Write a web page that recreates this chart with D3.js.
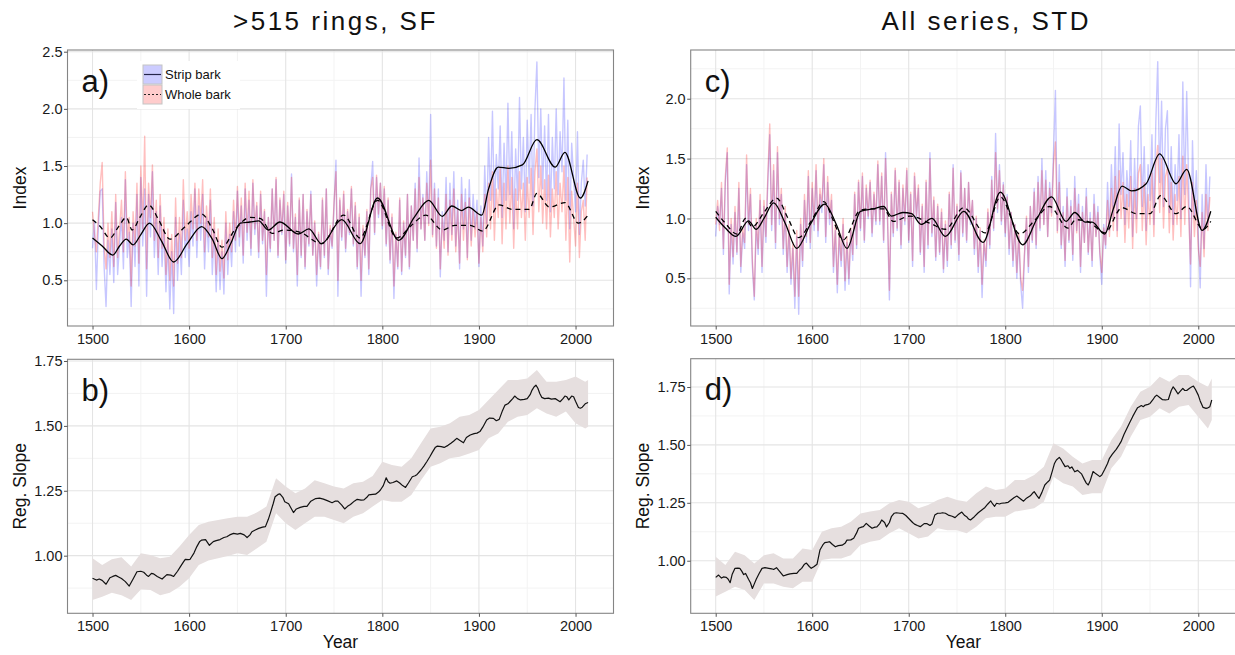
<!DOCTYPE html>
<html>
<head>
<meta charset="utf-8">
<script src="https://cdn.jsdelivr.net/npm/d3@7"></script>
<style>
  body { margin: 0; background: #fff; }
  svg { display: block; font-family: "Liberation Sans", Arial, Helvetica, sans-serif; }
</style>
</head>
<body>
<svg id="chart" width="1235" height="655"></svg>
<script>
// ---------- axis ticks ----------
const xTicks = [1500, 1600, 1700, 1800, 1900, 2000];
const xMinor = [1550, 1650, 1750, 1850, 1950];
const yTicksA = [0.5, 1.0, 1.5, 2.0, 2.5];
const yMinorA = [0.25, 0.75, 1.25, 1.75, 2.25];
const yTicksC = [0.5, 1.0, 1.5, 2.0];
const yMinorC = [0.25, 0.75, 1.25, 1.75, 2.25];
const yTicksSlope = [1.00, 1.25, 1.50, 1.75];
const yMinorSlope = [0.875, 1.125, 1.375, 1.625];

// ---------- annual index series, one value every second year 1500-2012 ----------
const indexYears = d3.range(1500, 2013, 2);

// >515 rings, SF : strip bark
const stripA = [
  0.78,1.02,0.42,0.95,1.28, 1.30,0.62,0.27,0.85,0.55, 0.95,0.48,1.18,0.55,0.82, 1.05,0.60,1.38,0.70,0.92,
  0.27,1.00,0.62,1.25,0.45, 1.40,0.80,1.30,0.36,1.25, 0.88,1.45,0.70,1.10,0.55, 1.15,0.62,0.95,0.40,0.85,
  0.25,0.75,0.21,1.05,0.50, 0.90,0.55,1.20,0.70,0.95, 0.62,1.10,0.80,1.30,0.70, 1.15,0.85,1.25,0.60,1.05,
  0.75,1.20,0.55,0.95,0.40, 0.85,0.42,0.75,0.38,1.00, 0.55,0.90,0.62,1.10,0.75, 1.28,0.80,1.15,0.65,1.30,
  0.85,1.20,0.72,1.35,0.90, 1.15,0.70,1.25,0.82,1.10, 0.36,1.05,0.75,1.30,0.85, 1.38,0.70,1.20,0.90,1.25,
  0.65,1.15,0.80,1.43,0.75, 1.05,0.45,1.20,0.70,1.25, 0.60,1.10,0.80,1.28,0.72, 1.00,0.45,0.90,0.60,1.20,
  0.70,1.30,0.55,0.95,0.78, 1.15,1.55,0.36,1.20,0.85, 1.25,0.75,1.10,0.90,1.30, 0.80,1.15,0.60,1.05,0.36,
  0.95,0.70,1.10,0.55,1.30, 1.54,0.90,1.40,1.05,1.35, 0.95,1.30,0.80,1.20,0.65, 1.05,0.34,0.90,0.60,1.20,
  0.55,1.00,0.70,1.25,0.60, 1.15,0.85,1.35,0.75,1.57, 0.95,1.25,0.85,1.45,1.00, 1.95,0.90,1.35,0.80,1.30,
  0.53,1.10,0.85,1.40,0.75, 1.35,0.90,1.45,0.80,1.20, 0.60,1.40,0.95,1.30,0.70, 1.38,0.85,1.25,0.95,1.20,
  0.62,1.15,0.80,1.50,1.00, 1.75,1.20,1.98,1.10,1.60, 1.30,1.85,1.05,1.70,1.20, 2.05,1.25,1.80,0.95,1.65,
  1.20,2.10,1.30,1.75,1.10, 1.90,1.35,1.95,1.15,2.00, 2.41,1.40,2.00,1.30,1.85, 1.20,1.95,1.10,1.75,1.30,
  2.00,1.25,1.80,1.45,2.27, 1.20,1.90,0.95,1.70,1.40, 1.10,1.80,0.90,1.35,1.55, 1.15,1.60
];
// >515 rings, SF : whole bark
const wholeA = [
  1.10,0.90,0.75,1.05,1.35, 1.53,0.80,0.60,1.00,0.70, 1.10,0.62,1.25,0.70,0.95, 1.20,0.75,1.45,0.85,1.05,
  0.45,1.10,0.80,1.35,0.65, 1.50,0.95,1.76,0.60,1.35, 1.05,1.51,0.85,1.20,0.70, 1.25,0.78,1.05,0.55,0.95,
  0.50,0.90,0.45,1.22,0.65, 1.05,0.70,1.38,0.85,1.10, 0.78,1.25,0.95,1.35,0.85, 1.30,1.00,1.38,0.75,1.15,
  0.88,1.30,0.70,1.05,0.55, 0.95,0.58,0.85,0.52,1.10, 0.68,1.00,0.75,1.20,0.85, 1.32,0.88,1.22,0.72,1.35,
  0.92,1.28,0.78,1.38,0.95, 1.18,0.75,1.28,0.85,1.12, 0.55,1.05,0.78,1.30,0.85, 1.40,0.72,1.22,0.92,1.28,
  0.68,1.18,0.82,1.40,0.78, 1.08,0.55,1.22,0.72,1.25, 0.62,1.12,0.82,1.25,0.72, 1.02,0.55,0.92,0.62,1.22,
  0.72,1.30,0.60,0.98,0.80, 1.18,1.45,0.50,1.22,0.88, 1.28,0.78,1.12,0.92,1.32, 0.82,1.18,0.62,1.08,0.50,
  0.98,0.72,1.12,0.60,1.30, 1.40,0.92,1.42,1.08,1.35, 0.98,1.32,0.82,1.22,0.68, 1.08,0.45,0.92,0.62,1.22,
  0.58,1.02,0.72,1.25,0.62, 1.15,0.85,1.30,0.78,1.40, 0.95,1.22,0.85,1.35,0.98, 1.55,0.88,1.30,0.78,1.22,
  0.60,1.05,0.78,1.25,0.72, 1.20,0.85,1.30,0.75,1.12, 0.65,1.25,0.85,1.18,0.68, 1.22,0.80,1.12,0.88,1.10,
  0.65,1.05,0.75,1.25,0.88, 1.35,0.95,1.45,0.85,1.30, 1.05,1.48,0.82,1.35,0.95, 1.50,1.00,1.40,0.78,1.30,
  0.95,1.45,1.05,1.35,0.85, 1.40,1.05,1.48,0.90,1.45, 1.65,1.10,1.50,1.00,1.38, 0.95,1.42,0.88,1.30,1.05,
  1.45,0.95,1.35,1.10,1.50, 0.85,1.40,0.66,1.28,1.05, 0.80,1.35,0.70,1.10,1.20, 0.85,1.40
];
// All series, STD : strip bark
const stripC = [
  0.85,1.10,0.95,1.25,0.70, 1.30,1.55,0.37,0.95,0.62, 1.05,0.70,1.25,0.55,0.88, 0.75,1.45,0.90,1.20,0.60,
  0.32,0.95,0.70,1.15,0.55, 1.10,0.80,1.30,1.70,0.90, 1.40,0.75,1.55,0.95,1.20, 0.70,1.05,0.55,0.90,0.45,
  0.75,0.25,0.85,0.20,0.95, 0.60,1.15,0.80,1.35,0.75, 1.25,0.90,1.40,0.85,1.20, 1.05,1.45,0.80,1.30,0.95,
  1.15,0.55,0.90,0.38,0.85, 0.60,0.95,0.40,0.80,0.45, 0.90,0.65,1.20,0.75,1.30, 0.90,1.35,0.80,1.25,1.00,
  1.30,0.85,1.20,0.95,1.45, 0.95,1.35,0.80,1.55,1.00, 0.32,1.20,0.85,1.40,0.90, 1.30,0.75,1.25,0.95,1.40,
  0.80,1.20,0.60,1.35,1.00, 1.25,0.70,1.10,0.55,1.30, 0.75,1.55,0.85,1.15,0.65, 1.10,0.70,1.05,0.55,0.95,
  0.60,1.20,0.75,1.45,0.80, 1.10,0.65,1.40,0.85,1.25, 0.80,1.30,0.95,1.15,0.70, 1.00,0.55,0.90,0.34,0.80,
  0.60,1.05,0.75,1.35,0.90, 1.71,1.05,1.45,0.95,1.30, 0.85,1.20,0.70,1.05,0.60, 0.95,0.50,0.85,0.45,0.25,
  0.70,1.00,0.55,1.10,0.80, 1.25,0.75,1.35,0.90,1.50, 0.95,1.40,0.85,1.30,1.05, 1.55,2.07,0.90,1.45,0.75,
  1.10,0.60,1.25,0.80,1.15, 0.65,1.35,0.90,1.20,0.55, 1.10,0.80,1.25,0.70,1.05, 0.60,1.20,0.85,1.10,0.70,
  0.45,0.95,0.75,1.30,0.90, 1.45,1.00,1.60,0.90,1.79, 1.20,1.55,0.95,1.40,1.10, 1.65,0.85,1.50,1.00,1.77,
  1.94,1.10,1.60,0.90,1.45, 1.15,1.70,0.95,1.80,2.31, 1.30,1.98,1.10,1.75,1.90, 1.05,1.60,0.95,1.45,1.15,
  1.70,1.00,2.14,1.20,2.06, 1.30,0.43,1.65,1.00,1.40, 0.85,0.42,1.20,0.75,1.45, 0.95,1.35
];
// All series, STD : whole bark
const wholeC = [
  0.95,1.15,0.90,1.30,0.75, 1.35,1.59,0.45,1.00,0.68, 1.10,0.72,1.30,0.60,0.92, 0.80,1.53,0.95,1.25,0.65,
  0.35,1.00,0.75,1.20,0.60, 1.15,0.85,1.35,1.79,0.95, 1.45,0.80,1.60,1.00,1.25, 0.75,1.10,0.60,0.95,0.50,
  0.80,0.35,0.90,0.35,1.00, 0.65,1.20,0.85,1.40,0.80, 1.30,0.95,1.45,0.90,1.25, 1.10,1.50,0.85,1.35,1.00,
  1.20,0.60,0.95,0.45,0.90, 0.65,1.00,0.48,0.85,0.50, 0.92,0.70,1.22,0.78,1.32, 0.92,1.38,0.82,1.28,1.02,
  1.32,0.88,1.22,0.98,1.48, 0.98,1.38,0.82,1.50,1.02, 0.40,1.22,0.88,1.42,0.92, 1.32,0.78,1.28,0.98,1.42,
  0.82,1.22,0.65,1.38,1.02, 1.28,0.72,1.12,0.60,1.32, 0.78,1.50,0.88,1.18,0.68, 1.12,0.72,1.08,0.58,0.98,
  0.65,1.22,0.78,1.42,0.82, 1.12,0.70,1.38,0.88,1.25, 0.82,1.30,0.98,1.15,0.75, 1.02,0.60,0.92,0.45,0.82,
  0.65,1.08,0.78,1.32,0.92, 1.55,1.08,1.40,0.98,1.28, 0.88,1.18,0.75,1.05,0.65, 0.95,0.55,0.88,0.50,0.40,
  0.72,1.02,0.60,1.10,0.82, 1.22,0.78,1.30,0.92,1.40, 0.95,1.32,0.85,1.25,1.02, 1.45,1.64,0.88,1.30,0.78,
  1.05,0.65,1.18,0.82,1.10, 0.70,1.25,0.88,1.12,0.60, 1.05,0.80,1.18,0.72,1.00, 0.65,1.12,0.85,1.05,0.72,
  0.55,0.92,0.78,1.15,0.85, 1.25,0.90,1.35,0.85,1.40, 1.00,1.30,0.80,1.20,0.92, 1.35,0.75,1.25,0.88,1.38,
  1.45,0.90,1.30,0.78,1.20, 0.95,1.38,0.85,1.45,1.61, 1.05,1.50,0.92,1.35,1.42, 0.88,1.30,0.82,1.20,0.95,
  1.35,0.85,1.52,0.95,1.45, 1.05,0.62,1.30,0.85,1.15, 0.75,0.60,1.05,0.68,1.20, 0.90,1.18
];

// ---------- smoothed chronologies (control years and values) ----------
const stripSmoothYearsA = [1500,1510,1521,1528,1535,1542,1550,1559,1571,1584,1598,1613,1624,1634,1643,1653,1663,1672,1682,1694,1713,1724,1737,1758,1777,1795,1817,1833,1848,1862,1872,1882,1889,1903,1910,1920,1931,1945,1960,1979,1989,2005,2013];
const stripSmoothA      = [0.87,0.80,0.72,0.80,0.86,0.81,0.90,1.00,0.85,0.66,0.82,0.97,0.86,0.69,0.82,1.00,1.01,1.02,0.94,1.01,0.905,0.95,0.82,1.03,0.82,1.22,0.85,1.05,1.20,1.06,1.15,1.11,1.14,1.07,1.30,1.49,1.48,1.51,1.73,1.49,1.62,1.22,1.37];
const wholeSmoothYearsA = [1500,1508,1518,1527,1535,1541,1549,1558,1569,1580,1596,1613,1624,1634,1648,1663,1674,1686,1699,1715,1737,1760,1777,1795,1815,1830,1845,1862,1875,1891,1904,1921,1935,1952,1960,1973,1989,2003,2013];
const wholeSmoothA      = [1.03,0.97,0.87,0.97,1.05,0.94,1.05,1.16,1.02,0.86,0.97,1.08,0.95,0.79,0.95,1.05,1.04,0.91,0.94,0.92,0.82,1.07,0.87,1.20,0.87,0.98,1.07,0.94,0.98,0.98,0.93,1.16,1.12,1.12,1.26,1.14,1.18,1.00,1.07];

const stripSmoothYearsC = [1500,1510,1521,1534,1542,1550,1560,1572,1584,1598,1613,1625,1636,1650,1663,1674,1682,1694,1703,1713,1724,1738,1757,1777,1795,1818,1833,1848,1863,1872,1883,1890,1903,1912,1921,1931,1946,1960,1977,1988,2004,2013];
const stripSmoothC      = [1.01,0.92,0.85,0.98,0.91,1.00,1.13,0.96,0.75,0.95,1.12,0.95,0.75,1.06,1.08,1.10,1.02,1.05,1.04,0.95,1.00,0.85,1.06,0.80,1.22,0.78,1.00,1.18,0.975,1.05,0.97,0.97,0.87,1.08,1.27,1.23,1.29,1.54,1.29,1.41,0.90,1.06];
const wholeSmoothYearsC = [1500,1510,1522,1531,1538,1550,1563,1575,1586,1599,1612,1622,1632,1650,1663,1674,1684,1701,1722,1738,1757,1779,1795,1815,1830,1846,1865,1873,1887,1903,1921,1936,1950,1961,1977,1988,2005,2013];
const wholeSmoothC      = [1.06,0.96,0.87,1.00,0.93,1.05,1.17,1.00,0.84,0.98,1.14,0.98,0.82,1.07,1.08,1.08,0.975,1.02,0.96,0.91,1.09,0.88,1.18,0.87,0.98,1.10,0.92,0.99,0.97,0.88,1.09,1.04,1.04,1.19,1.04,1.10,0.91,0.975];

// ---------- regression slope, >515 rings, SF ----------
const slopeYearsB = [1500,1504,1507,1510,1514,1518,1521,1524,1527,1530,1534,1538,1542,1546,1550,1553,1556,1558,1561,1563,1567,1572,1577,1581,1584,1588,1591,1594,1596,1599,1601,1605,1608,1611,1613,1617,1621,1625,1628,1632,1636,1639,1642,1646,1650,1653,1657,1660,1663,1665,1669,1672,1676,1679,1682,1684,1687,1689,1692,1694,1697,1699,1703,1706,1708,1711,1715,1719,1722,1726,1731,1735,1739,1743,1748,1751,1754,1758,1761,1764,1767,1771,1774,1778,1781,1784,1786,1790,1793,1796,1798,1801,1804,1806,1808,1811,1815,1818,1821,1824,1827,1831,1834,1836,1840,1843,1846,1849,1852,1855,1857,1861,1864,1868,1871,1874,1877,1880,1884,1887,1891,1895,1898,1901,1904,1908,1911,1915,1918,1921,1924,1927,1930,1932,1935,1937,1940,1943,1947,1950,1953,1955,1957,1959,1961,1963,1965,1968,1972,1975,1979,1982,1984,1987,1989,1991,1993,1996,1998,2000,2003,2005,2007,2010,2013];
const slopeB      = [0.913,0.906,0.910,0.905,0.890,0.915,0.920,0.924,0.918,0.912,0.900,0.883,0.910,0.938,0.940,0.936,0.925,0.920,0.932,0.930,0.920,0.910,0.927,0.925,0.920,0.940,0.958,0.975,0.986,0.985,0.986,1.010,1.035,1.055,1.060,1.062,1.040,1.054,1.058,1.062,1.070,1.073,1.080,1.086,1.083,1.086,1.080,1.070,1.080,1.092,1.100,1.105,1.110,1.112,1.140,1.163,1.200,1.227,1.236,1.238,1.225,1.208,1.200,1.180,1.166,1.180,1.186,1.190,1.190,1.210,1.220,1.222,1.218,1.212,1.204,1.210,1.210,1.195,1.180,1.190,1.197,1.210,1.217,1.214,1.215,1.225,1.234,1.236,1.237,1.245,1.253,1.270,1.300,1.285,1.279,1.282,1.288,1.280,1.270,1.263,1.280,1.304,1.308,1.313,1.330,1.345,1.362,1.380,1.400,1.418,1.422,1.420,1.417,1.425,1.433,1.442,1.452,1.445,1.435,1.455,1.465,1.470,1.472,1.478,1.495,1.523,1.530,1.529,1.520,1.525,1.555,1.580,1.585,1.593,1.605,1.615,1.605,1.600,1.602,1.605,1.620,1.638,1.650,1.657,1.645,1.625,1.610,1.605,1.607,1.603,1.605,1.598,1.593,1.605,1.615,1.612,1.600,1.615,1.612,1.595,1.571,1.568,1.572,1.585,1.590];
const bandYearsB = [...d3.range(1500, 2011, 10), 2013];
const bandLowB  = [0.829,0.842,0.857,0.848,0.829,0.870,0.868,0.848,0.857,0.880, 0.913,0.964,0.981,0.990,0.999,1.009,1.003,1.028,1.054,1.163, 1.125,1.099,1.125,1.150,1.150,1.137,1.125,1.150,1.163,1.189, 1.214,1.208,1.208,1.234,1.291,1.343,1.356,1.375,1.381,1.394, 1.407,1.452,1.471,1.516,1.535,1.542,1.568,1.548,1.535,1.555, 1.510,1.490,1.497];
const bandHighB = [0.990,0.964,0.986,0.994,0.958,1.009,1.003,0.990,0.996,1.035, 1.080,1.118,1.131,1.137,1.144,1.150,1.150,1.166,1.189,1.298, 1.266,1.240,1.259,1.291,1.279,1.266,1.259,1.279,1.285,1.307, 1.362,1.349,1.343,1.375,1.433,1.490,1.497,1.510,1.535,1.542, 1.561,1.600,1.638,1.677,1.677,1.683,1.715,1.670,1.670,1.677, 1.690,1.670,1.677];

// ---------- regression slope, all series, STD ----------
const slopeYearsD = [1500,1503,1506,1508,1511,1513,1515,1517,1520,1523,1525,1527,1529,1531,1534,1536,1538,1540,1542,1545,1548,1551,1555,1558,1560,1563,1566,1570,1574,1577,1581,1584,1587,1589,1592,1594,1597,1599,1602,1605,1608,1611,1613,1616,1618,1621,1624,1627,1631,1634,1636,1640,1643,1646,1648,1651,1653,1656,1659,1662,1665,1667,1670,1672,1675,1677,1680,1682,1685,1687,1691,1694,1697,1701,1704,1706,1709,1712,1716,1719,1722,1724,1727,1730,1733,1735,1738,1741,1745,1748,1751,1755,1758,1760,1762,1764,1768,1772,1776,1779,1782,1785,1787,1789,1791,1794,1796,1800,1803,1806,1809,1812,1815,1819,1822,1826,1828,1830,1833,1835,1838,1841,1844,1846,1849,1851,1853,1856,1858,1860,1862,1865,1867,1869,1872,1875,1879,1882,1884,1886,1888,1891,1894,1898,1900,1903,1906,1908,1911,1915,1918,1920,1923,1926,1929,1932,1935,1937,1939,1941,1943,1945,1948,1950,1953,1955,1957,1960,1963,1966,1969,1972,1974,1976,1979,1981,1984,1986,1988,1991,1993,1995,1997,2000,2002,2005,2008,2010,2012,2014];
const slopeD      = [0.928,0.938,0.925,0.930,0.928,0.920,0.905,0.940,0.967,0.968,0.967,0.955,0.940,0.945,0.920,0.905,0.880,0.900,0.920,0.945,0.967,0.970,0.967,0.965,0.962,0.970,0.955,0.934,0.940,0.943,0.945,0.945,0.960,0.967,0.985,0.990,0.975,0.967,0.975,0.985,1.046,1.068,1.078,1.080,1.082,1.070,1.060,1.065,1.067,1.075,1.089,1.090,1.097,1.120,1.140,1.145,1.147,1.161,1.150,1.140,1.145,1.146,1.160,1.176,1.165,1.146,1.165,1.190,1.205,1.207,1.205,1.204,1.195,1.178,1.165,1.158,1.152,1.147,1.160,1.160,1.152,1.158,1.197,1.205,1.205,1.207,1.205,1.197,1.192,1.186,1.198,1.210,1.195,1.190,1.180,1.176,1.190,1.207,1.220,1.230,1.245,1.258,1.245,1.235,1.248,1.245,1.248,1.250,1.252,1.262,1.272,1.279,1.270,1.257,1.270,1.280,1.290,1.298,1.280,1.269,1.295,1.327,1.340,1.348,1.390,1.420,1.435,1.446,1.435,1.420,1.406,1.410,1.399,1.405,1.384,1.390,1.375,1.350,1.335,1.327,1.345,1.385,1.375,1.363,1.370,1.394,1.420,1.442,1.460,1.481,1.500,1.514,1.545,1.571,1.597,1.622,1.645,1.660,1.665,1.670,1.665,1.672,1.675,1.679,1.695,1.708,1.715,1.705,1.695,1.694,1.696,1.735,1.751,1.740,1.720,1.730,1.744,1.735,1.735,1.745,1.750,1.754,1.740,1.715,1.690,1.662,1.658,1.660,1.665,1.694];
const bandYearsD = [...d3.range(1500, 2011, 10), 2014];
const bandLowD  = [0.845,0.866,0.888,0.873,0.830,0.902,0.902,0.888,0.881,0.909, 0.909,1.003,1.010,1.010,1.024,1.068,1.082,1.089,1.118,1.140, 1.118,1.096,1.104,1.140,1.132,1.132,1.118,1.147,1.183,1.190, 1.190,1.212,1.219,1.226,1.255,1.363,1.334,1.320,1.284,1.291, 1.291,1.399,1.449,1.535,1.607,1.622,1.658,1.636,1.665,1.672, 1.622,1.571,1.607];
const bandHighD = [1.017,0.981,1.039,1.024,0.988,1.024,1.032,1.010,1.010,1.053, 1.046,1.125,1.140,1.147,1.168,1.204,1.212,1.219,1.248,1.262, 1.255,1.226,1.240,1.262,1.276,1.262,1.255,1.291,1.320,1.305, 1.312,1.348,1.348,1.370,1.406,1.507,1.485,1.449,1.420,1.435, 1.435,1.521,1.579,1.665,1.730,1.751,1.794,1.773,1.802,1.802, 1.773,1.751,1.787];

// ---------- drawing ----------
const FONT = '"Liberation Sans", Arial, Helvetica, sans-serif';
const svg = d3.select("#chart");
const STRIP_COL = "rgb(0,0,255)", WHOLE_COL = "rgb(255,0,0)";
const fmt1 = d3.format(".1f"), fmt2 = d3.format(".2f"), fmtYear = d3.format("d");

// headline titles
svg.append("text").attr("x", 233).attr("y", 30).attr("font-size", 26).attr("letter-spacing", 2.5)
   .attr("fill", "#111").text(">515 rings, SF");
svg.append("text").attr("x", 881.5).attr("y", 30).attr("font-size", 26).attr("letter-spacing", 2.5)
   .attr("fill", "#111").text("All series, STD");

function pairs(xs, ys) { return xs.map((d, i) => [d, ys[i]]); }

function drawPanel(p) {
  const x = d3.scaleLinear().domain(p.xDom).range([p.left, p.right]);
  const y = d3.scaleLinear().domain(p.yDom).range([p.bottom, p.top]);
  const g = svg.append("g");
  const clipId = "clip-" + p.id;
  svg.append("clipPath").attr("id", clipId).append("rect")
     .attr("x", p.left).attr("y", p.top).attr("width", p.right - p.left).attr("height", p.bottom - p.top);

  // grid
  const grid = g.append("g").attr("clip-path", `url(#${clipId})`);
  grid.selectAll("line.vmin").data(xMinor).join("line").attr("class", "vmin")
      .attr("x1", d => x(d)).attr("x2", d => x(d)).attr("y1", p.top).attr("y2", p.bottom)
      .attr("stroke", "#f3f3f3").attr("stroke-width", 1);
  grid.selectAll("line.hmin").data(p.yMinor).join("line").attr("class", "hmin")
      .attr("y1", d => y(d)).attr("y2", d => y(d)).attr("x1", p.left).attr("x2", p.right)
      .attr("stroke", "#f3f3f3").attr("stroke-width", 1);
  grid.selectAll("line.vmaj").data(xTicks).join("line").attr("class", "vmaj")
      .attr("x1", d => x(d)).attr("x2", d => x(d)).attr("y1", p.top).attr("y2", p.bottom)
      .attr("stroke", "#e4e4e4").attr("stroke-width", 1.1);
  grid.selectAll("line.hmaj").data(p.yTicks).join("line").attr("class", "hmaj")
      .attr("y1", d => y(d)).attr("y2", d => y(d)).attr("x1", p.left).attr("x2", p.right)
      .attr("stroke", "#e4e4e4").attr("stroke-width", 1.1);

  const body = g.append("g").attr("clip-path", `url(#${clipId})`);
  p.draw(body, x, y);

  // panel border
  g.append("rect").attr("x", p.left).attr("y", p.top)
   .attr("width", p.right - p.left).attr("height", p.bottom - p.top)
   .attr("fill", "none").attr("stroke", "#858585").attr("stroke-width", 1.1);

  // axes
  const ax = g.append("g").attr("transform", `translate(0,${p.bottom})`)
    .call(d3.axisBottom(x).tickValues(xTicks).tickFormat(fmtYear).tickSize(3.5).tickPadding(4));
  const ay = g.append("g").attr("transform", `translate(${p.left},0)`)
    .call(d3.axisLeft(y).tickValues(p.yTicks).tickFormat(p.fmt).tickSize(3.5).tickPadding(1.5));
  [ax, ay].forEach(a => {
    a.select(".domain").remove();
    a.attr("font-size", 14.5).attr("font-family", FONT);
    a.selectAll("line").attr("stroke", "#555");
    a.selectAll("text").attr("fill", "#1a1a1a");
  });

  // axis titles
  svg.append("text")
     .attr("transform", `translate(${p.yTitleX},${(p.top + p.bottom) / 2}) rotate(-90)`)
     .attr("text-anchor", "middle").attr("font-size", 17.5).attr("fill", "#111").text(p.yTitle);
  if (p.xTitle) {
    svg.append("text").attr("x", (p.left + p.right) / 2).attr("y", 648)
       .attr("text-anchor", "middle").attr("font-size", 17.5).attr("fill", "#111").text(p.xTitle);
  }
  // panel letter
  svg.append("text").attr("x", p.left + 14).attr("y", p.top + 41.5)
     .attr("font-size", 31).attr("fill", "#111").text(p.letter);
  return {x, y};
}

function drawIndex(strip, whole, sYearsS, sS, sYearsW, sW) {
  return (body, x, y) => {
    const line = d3.line().x(d => x(d[0])).y(d => y(d[1]));
    body.append("path").datum(pairs(indexYears, strip)).attr("d", line)
        .attr("fill", "none").attr("stroke", STRIP_COL).attr("stroke-opacity", 0.22)
        .attr("stroke-width", 1.4).attr("stroke-linejoin", "round");
    body.append("path").datum(pairs(indexYears, whole)).attr("d", line)
        .attr("fill", "none").attr("stroke", WHOLE_COL).attr("stroke-opacity", 0.25)
        .attr("stroke-width", 1.4).attr("stroke-linejoin", "round");
    const smooth = d3.line().curve(d3.curveMonotoneX).x(d => x(d[0])).y(d => y(d[1]));
    body.append("path").datum(pairs(sYearsS, sS)).attr("d", smooth)
        .attr("fill", "none").attr("stroke", "#000").attr("stroke-width", 1.3);
    body.append("path").datum(pairs(sYearsW, sW)).attr("d", smooth)
        .attr("fill", "none").attr("stroke", "#000").attr("stroke-width", 1.3)
        .attr("stroke-dasharray", "5,4");
  };
}

function drawSlope(sYears, s, bYears, lo, hi) {
  return (body, x, y) => {
    const band = bYears.map((d, i) => ({yr: d, lo: lo[i], hi: hi[i]}));
    body.append("path").datum(band)
        .attr("d", d3.area().x(d => x(d.yr)).y0(d => y(d.lo)).y1(d => y(d.hi)))
        .attr("fill", "#e6dfdf");
    body.append("path").datum(pairs(sYears, s))
        .attr("d", d3.line().x(d => x(d[0])).y(d => y(d[1])))
        .attr("fill", "none").attr("stroke", "#111").attr("stroke-width", 1.2)
        .attr("stroke-linejoin", "round");
  };
}

const xDom = [1474.1, 2039.3];

drawPanel({id: "a", letter: "a)", left: 67.5, right: 613.5, top: 50, bottom: 326, xDom,
  yDom: [0.1, 2.515], yTicks: yTicksA, yMinor: yMinorA, fmt: fmt1, yTitle: "Index", yTitleX: 25.5,
  draw: drawIndex(stripA, wholeA, stripSmoothYearsA, stripSmoothA, wholeSmoothYearsA, wholeSmoothA)});
drawPanel({id: "b", letter: "b)", left: 67.5, right: 613.5, top: 359.3, bottom: 613.3, xDom,
  yDom: [0.778, 1.7565], yTicks: yTicksSlope, yMinor: yMinorSlope, fmt: fmt2, yTitle: "Reg. Slope",
  yTitleX: 25.5, xTitle: "Year",
  draw: drawSlope(slopeYearsB, slopeB, bandYearsB, bandLowB, bandHighB)});
drawPanel({id: "c", letter: "c)", left: 690.7, right: 1236.2, top: 50, bottom: 326, xDom,
  yDom: [0.102, 2.407], yTicks: yTicksC, yMinor: yMinorC, fmt: fmt1, yTitle: "Index", yTitleX: 649,
  draw: drawIndex(stripC, wholeC, stripSmoothYearsC, stripSmoothC, wholeSmoothYearsC, wholeSmoothC)});
drawPanel({id: "d", letter: "d)", left: 690.7, right: 1236.2, top: 358.7, bottom: 613.3, xDom,
  yDom: [0.7729, 1.8722], yTicks: yTicksSlope, yMinor: yMinorSlope, fmt: fmt2, yTitle: "Reg. Slope",
  yTitleX: 649, xTitle: "Year",
  draw: drawSlope(slopeYearsD, slopeD, bandYearsD, bandLowD, bandHighD)});

// legend for panel a
const leg = svg.append("g");
leg.append("rect").attr("x", 137).attr("y", 61).attr("width", 103).attr("height", 48).attr("fill", "#fff");
const keys = [
  {label: "Strip bark", col: "rgba(0,0,255,0.2)", dash: null, lineCol: "#24244a", y: 65},
  {label: "Whole bark", col: "rgba(255,0,0,0.2)", dash: "2,2", lineCol: "#222", y: 85}
];
keys.forEach(k => {
  leg.append("rect").attr("x", 143).attr("y", k.y).attr("width", 19).attr("height", 19)
     .attr("fill", k.col).attr("stroke", "#c4c4c4").attr("stroke-width", 1);
  leg.append("line").attr("x1", 144).attr("x2", 161).attr("y1", k.y + 9.5).attr("y2", k.y + 9.5)
     .attr("stroke", k.lineCol).attr("stroke-width", 1.2).attr("stroke-dasharray", k.dash);
  leg.append("text").attr("x", 165).attr("y", k.y + 14).attr("font-size", 13).attr("fill", "#111").text(k.label);
});
</script>
</body>
</html>
